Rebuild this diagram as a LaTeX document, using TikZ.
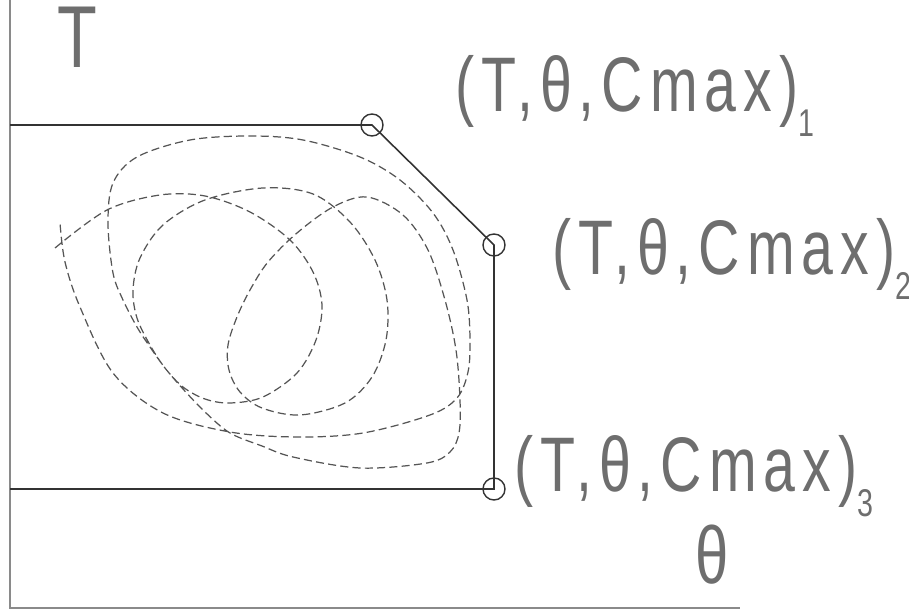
\documentclass[tikz,border=0pt]{standalone}
\usepackage{fontspec}
\setmainfont{Liberation Sans}
\newfontfamily\cadfont[FakeStretch=0.74,LetterSpace=9]{Liberation Sans}
\definecolor{axisgray}{HTML}{8A8A8A}
\definecolor{linedark}{HTML}{333333}
\definecolor{dashgray}{HTML}{555555}
\definecolor{textgray}{HTML}{6E6E6E}
\tikzset{
  axisline/.style={draw=axisgray, line width=0.6pt},
  boundline/.style={draw=linedark, line width=0.45pt},
  vertexmark/.style={circle, draw=linedark, line width=0.4pt, minimum size=0.22cm, inner sep=0pt},
  curveline/.style={draw=dashgray, line width=0.35pt, dash pattern=on 2.3pt off 1.2pt},
  cadlabel/.style={text=textgray, inner sep=0pt, anchor=base west, font=\cadfont\fontsize{22}{26}\selectfont},
  axislabel/.style={text=textgray, inner sep=0pt, font=\cadfont\fontsize{25}{30}\selectfont}
}
\newcommand{\cadsub}[1]{\raisebox{-7pt}{\fontsize{11}{13}\selectfont #1}}
\begin{document}
\begin{tikzpicture}[x=0.01cm,y=-0.01cm]
\useasboundingbox (0,0) rectangle (909,613);
% axes
\coordinate (otop) at (10,0);
\coordinate (orig) at (10,608);
\coordinate (xend) at (740,608);
\draw[axisline] (otop) -- (orig) -- (xend);
% boundary polygon
\coordinate (ltop) at (10,125);
\coordinate (lbot) at (10,489);
\node[vertexmark] (p1) at (372,125) {};
\node[vertexmark] (p2) at (494,245) {};
\node[vertexmark] (p3) at (494,489) {};
\draw[boundline] (ltop) -- (p1.center) -- (p2.center) -- (p3.center) -- (lbot);
% dashed spiral of trajectories
\draw[curveline] plot[smooth, tension=0.55] coordinates {
(55,248) (107,210) (160,195) (205,196) (250,212) (290,240) (313,272) (322,305) (316,340) (297,373) (263,397) (230,403) (205,399) (183,387) (165,368) (150,345) (137,318) (133,290) (140,258) (163,225) (205,200) (263,188) (313,194) (350,222) (375,260) (387,300) (386,340) (372,377) (345,403) (300,415) (262,408) (240,392) (229,370) (228,345) (237,317) (250,290) (268,262) (297,233) (333,207) (367,197) (403,215) (428,250) (445,300) (456,350) (460,400) (459,433) (450,452) (427,463) (360,468) (293,457) (262,446) (230,433) (205,412) (183,389) (165,368) (150,347) (137,327) (123,300) (113,273) (108,223) (113,183) (137,157) (190,140) (250,136) (303,140) (360,157) (400,180) (433,213) (453,250) (467,300) (470,340) (468,372) (457,398) (430,415) (363,433) (297,437) (230,432) (163,413) (113,373) (80,307) (65,262) (60,223)};
% labels
\node[axislabel] (tlab) at (77,37) {T};
\node[axislabel, font=\cadfont\fontsize{23}{27}\selectfont] (thlab) at (712,555) {θ};
\node[cadlabel] (l1) at (455,112) {(T,θ,Cmax)\cadsub{1}};
\node[cadlabel] (l2) at (552,275) {(T,θ,Cmax)\cadsub{2}};
\node[cadlabel] (l3) at (514,492) {(T,θ,Cmax)\cadsub{3}};
\end{tikzpicture}
\end{document}
